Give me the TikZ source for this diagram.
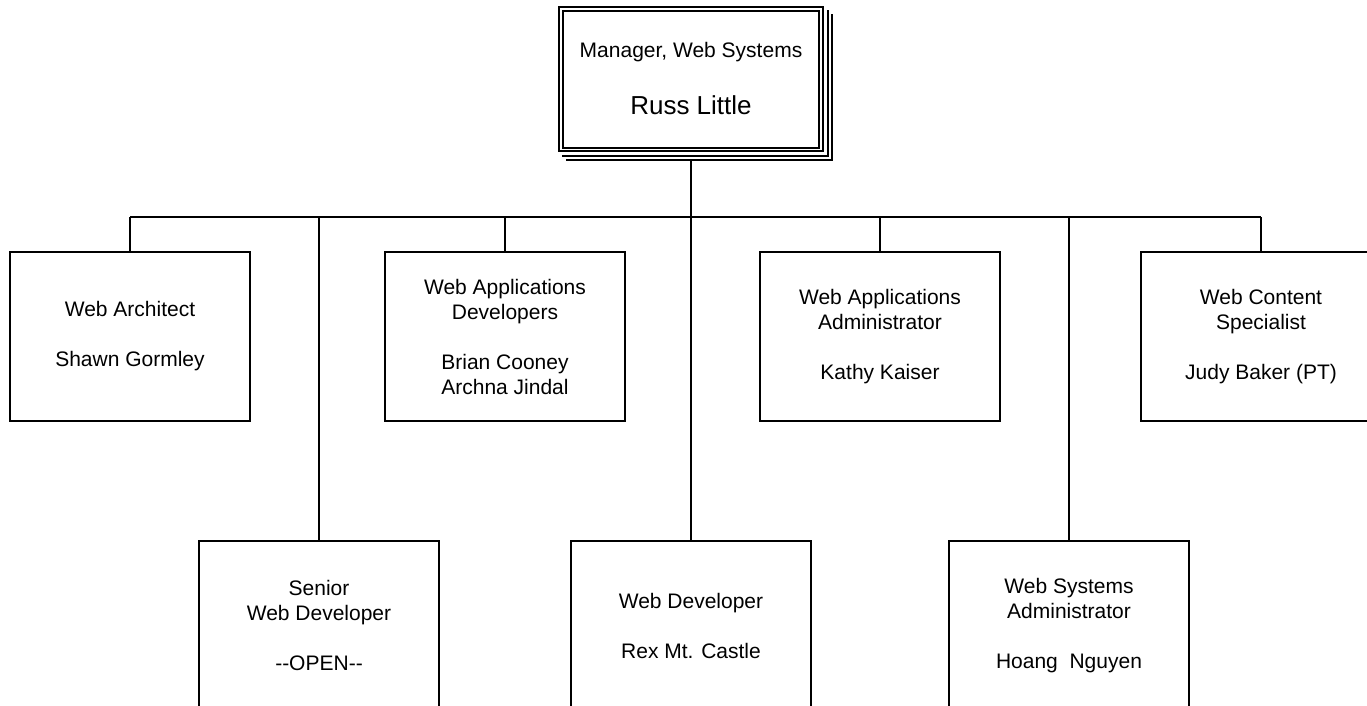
\documentclass[tikz,border=0pt]{standalone}
\usepackage{fontspec}
\setmainfont{Liberation Sans}
\begin{document}
\begin{tikzpicture}[x=1pt,y=-1pt,
  ln/.style={line width=2pt,draw=black},
  box/.style={ln,rectangle,minimum width=240pt,minimum height=169pt,inner sep=0pt,align=center,font=\fontsize{21}{25}\selectfont},
  txt/.style={inner sep=0pt,anchor=base}]
\path[use as bounding box] (0,0) rectangle (1367,706);
\clip (0,0) rectangle (1367,706);
\fill[white] (0,0) rectangle (1367,706);
% manager
\node[ln, rectangle, minimum width=264pt, minimum height=144pt, inner sep=0pt] (mgr) at (691,79) {};
\draw[ln] ([shift={(5,5)}]mgr.north west) rectangle ([shift={(-5,-4)}]mgr.south east);
\draw[ln] ([shift={(4,4)}]mgr.south west) -| ([shift={(4,4)}]mgr.north east);
\draw[ln] ([shift={(8,8)}]mgr.south west) -| ([shift={(8,8)}]mgr.north east);
\node[txt, font=\fontsize{21}{25}\selectfont] (mgrtitle) at (691,58) {Manager, Web Systems};
\node[txt, font=\fontsize{26}{30}\selectfont] (mgrname) at (691,114) {Russ Little};
% top row
\node[box] (arch) at (130,336.5) {Web Architect\\[25pt]Shawn Gormley};
\node[box] (dev) at (505,336.5) {Web Applications\\Developers\\[25pt]Brian Cooney\\Archna Jindal};
\node[box] (admin) at (880,336.5) {Web Applications\\Administrator\\[25pt]Kathy Kaiser};
\node[box] (cont) at (1261,336.5) {Web Content\\Specialist\\[25pt]Judy Baker (PT)};
% bottom row
\node[box] (senior) at (319,625.5) {Senior\\Web Developer\\[25pt]-{}-OPEN-{}-};
\node[box] (webdev) at (691,625.5) {Web Developer\\[25pt]Rex Mt. Castle};
\node[box] (sysadm) at (1069,625.5) {Web Systems\\Administrator\\[25pt]Hoang~~Nguyen};
% connectors
\coordinate (bus) at (691,217);
\draw[ln] ([yshift=-8pt]mgr.south) -- (webdev.north);
\draw[ln] (bus -| arch.north) -- (bus -| cont.north);
\foreach \n in {arch,dev,admin,cont,senior,sysadm}
  \draw[ln] (bus -| \n.north) -- (\n.north);
\end{tikzpicture}
\end{document}
